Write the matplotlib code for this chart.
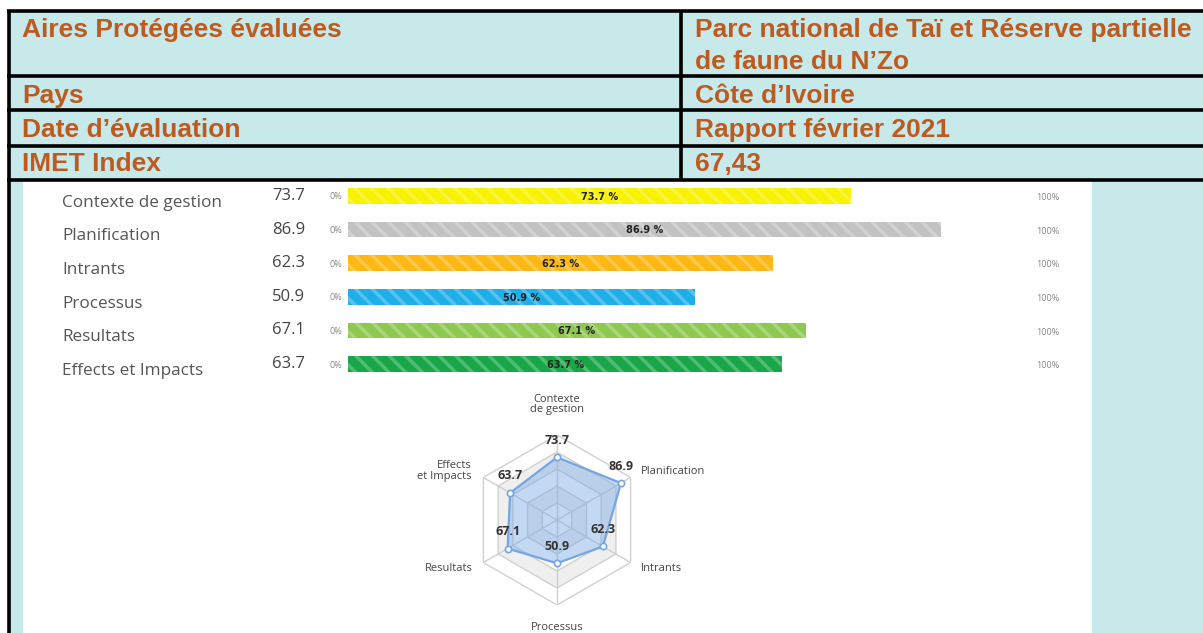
import numpy as np
import matplotlib.pyplot as plt
import matplotlib.transforms as mtransforms
from matplotlib.patches import Rectangle

# header table
row_labels = ["Aires Protégées évaluées", "Pays", "Date d’évaluation", "IMET Index"]
row_values = ["Parc national de Taï et Réserve partielle\nde faune du N’Zo",
              "Côte d’Ivoire", "Rapport février 2021", "67,43"]

# IMET scores
categories = ["Contexte de gestion", "Planification", "Intrants",
              "Processus", "Resultats", "Effects et Impacts"]
scores = [73.7, 86.9, 62.3, 50.9, 67.1, 63.7]
bar_colors = ["#F8F200", "#C2C2C2", "#FDB813", "#1EAEE8", "#8DC850", "#19A649"]
radar_labels = ["Contexte\nde gestion", "Planification", "Intrants",
                "Processus", "Resultats", "Effects\net Impacts"]

W, H = 1203, 633
cyan = "#C7E9EA"
brown = "#BD5A1F"
plt.rcParams['hatch.linewidth'] = 2.5

fig = plt.figure(figsize=(W / 100, H / 100), dpi=100)
bg = fig.add_axes([0, 0, 1, 1])
bg.set_xlim(0, W)
bg.set_ylim(H, 0)
bg.axis('off')

# table background and frame
bg.add_patch(Rectangle((8, 10), W - 8, 170, color=cyan, lw=0))
bg.add_patch(Rectangle((8, 180), 15, H - 180, color=cyan, lw=0))
bg.add_patch(Rectangle((1092, 180), W - 1092, H - 180, color=cyan, lw=0))
for y in [11, 75.5, 110, 145.5, 179.5]:
    bg.plot([7, W], [y, y], color="black", lw=2.6, solid_capstyle='butt')
bg.plot([9, 9], [9.5, H], color="black", lw=2.6, solid_capstyle='butt')
bg.plot([681, 681], [9.5, 181], color="black", lw=2.6, solid_capstyle='butt')

baselines = [37, 103, 137, 171]
for lab, val, yb in zip(row_labels, row_values, baselines):
    bg.text(22, yb, lab, color=brown, fontsize=19, fontweight='bold',
            family='Liberation Sans', va='baseline')
    for k, line in enumerate(val.split("\n")):
        bg.text(695, yb + 32 * k, line, color=brown, fontsize=19,
                fontweight='bold', family='Liberation Sans', va='baseline')

# progress bars
ax = fig.add_axes([348 / W, 1 - 381 / H, (1030 - 348) / W, (381 - 179) / H])
ax.set_xlim(0, 100)
ax.set_ylim(5.5, -0.5)
ax.axis('off')
ypos = np.arange(len(categories))
ax.barh(ypos, scores, height=0.47, color=bar_colors, lw=0)
ax.barh(ypos, scores, height=0.47, facecolor='none',
        edgecolor=(1, 1, 1, 0.25), hatch='\\\\', lw=0)
for i, s in enumerate(scores):
    ax.text(s / 2, i + 0.02, f"{s} %", ha='center', va='center', fontsize=7,
            fontweight='bold', color="#222222",
            family=['Liberation Sans Narrow', 'DejaVu Sans'])

tr = mtransforms.blended_transform_factory(bg.transData, ax.transData)
for i, (c, s) in enumerate(zip(categories, scores)):
    ax.text(62, i + 0.2, c, transform=tr, ha='left', va='center', fontsize=12.3,
            color="#555555", family='Open Sans')
    ax.text(272, i, f"{s}", transform=tr, ha='left', va='center', fontsize=12,
            color="#444444", family='Open Sans')
    ax.text(342, i + 0.03, "0%", transform=tr, ha='right', va='center',
            fontsize=6.5, color="#888888", family='Open Sans')
    ax.text(1048, i + 0.05, "100%", transform=tr, ha='center', va='center',
            fontsize=6.5, color="#888888", family='Open Sans')

# radar chart
cx, cy, R = 557, 520, 85
rad = fig.add_axes([(cx - R) / W, 1 - (cy + R) / H, 2 * R / W, 2 * R / H],
                   projection='polar')
rad.set_theta_zero_location('N')
rad.set_theta_direction(-1)
rad.set_ylim(0, 100)
rad.axis('off')
ang = np.linspace(0, 2 * np.pi, len(categories), endpoint=False)
ang_c = np.append(ang, ang[0])

levels = [100, 80, 60, 40, 20]
for k, lv in enumerate(levels):
    fc = "white" if k % 2 == 0 else "#EFEFEF"
    rad.fill(ang_c, [lv] * 7, color=fc, lw=0, zorder=1)
for lv in levels:
    rad.plot(ang_c, [lv] * 7, color="#D0D0D0", lw=1, zorder=2)
for a in ang:
    rad.plot([a, a], [0, 100], color="#D0D0D0", lw=1, zorder=2)

sc = np.append(scores, scores[0])
rad.fill(ang_c, sc, color="#7AAAE3", alpha=0.45, lw=0, zorder=3)
rad.plot(ang_c, sc, color="#75A6E2", lw=1.6, zorder=4)
rad.plot(ang, scores, 'o', ms=4.5, mfc='white', mec="#75A6E2", mew=1.2, zorder=5)
for a, s in zip(ang, scores):
    rad.annotate(f"{s}", (a, s), xytext=(0, 17), textcoords='offset pixels',
                 ha='center', va='center', fontsize=9, fontweight='bold',
                 color="#333333", family='Open Sans', zorder=6)

label_pos = [(136, 'center'), (114, 'left'), (114, 'left'),
             (126, 'center'), (114, 'right'), (116, 'right')]
for a, lab, (r, ha) in zip(ang, radar_labels, label_pos):
    rad.text(a, r, lab, ha=ha, va='center', fontsize=8, color="#444444",
             family='Open Sans', linespacing=0.95)

fig.savefig("out.png", dpi=100)
